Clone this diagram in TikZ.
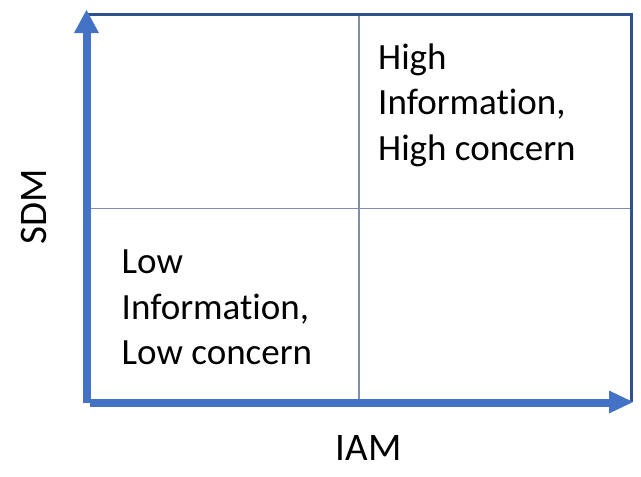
\documentclass[tikz,border=0pt]{standalone}
\usepackage{fontspec}
\setmainfont{Carlito}[Ligatures={NoCommon}]
\definecolor{axisblue}{RGB}{68,114,196}
\definecolor{frameblue}{RGB}{47,82,143}
\definecolor{gridblue}{RGB}{128,142,172}
\tikzset{
  quadtext/.style={anchor=base west, align=left, inner sep=0pt, font=\fontsize{37}{45.5}\selectfont},
  axislabel/.style={inner sep=0pt, font=\fontsize{39}{44}\selectfont},
  framel/.style={draw=frameblue, line width=2.2pt},
  gridl/.style={draw=gridblue, line width=1.3pt},
  axisl/.style={draw=axisblue, line width=8pt},
  headf/.style={fill=axisblue, draw=none}
}
\begin{document}
\begin{tikzpicture}[x=1pt,y=-1pt]
\useasboundingbox (0,0) rectangle (641,477);
\coordinate (tl) at (87,14.5);
\coordinate (tr) at (631.5,14.5);
\coordinate (br) at (631.5,402);
\coordinate (mt) at (359,14.5);
\coordinate (mb) at (359,402);
\coordinate (ml) at (87,208.7);
\coordinate (mr) at (631.5,208.7);
\coordinate (vstart) at (86.5,403);
\coordinate (vend) at (86.5,32);
\coordinate (vtip) at (86.5,10);
\coordinate (vbl) at (74,33);
\coordinate (vbr) at (99,33);
\coordinate (hstart) at (90,402.5);
\coordinate (hend) at (610,402.5);
\coordinate (htip) at (633,402);
\coordinate (hbt) at (609,390.5);
\coordinate (hbb) at (609,413.5);
% frame and grid
\draw[gridl] (mt) -- (mb);
\draw[gridl] (ml) -- (mr);
\draw[framel] (tl) -- (tr) -- (br);
% axes
\draw[axisl] (vstart) -- (vend);
\fill[headf] (vtip) -- (vbl) -- (vbr) -- cycle;
\draw[axisl] (hstart) -- (hend);
\fill[headf] (htip) -- (hbt) -- (hbb) -- cycle;
% texts (base anchor = baseline of the last line)
\node[quadtext] (hi) at (378,160) {High\\Information,\\High concern};
\node[quadtext] (lo) at (121.5,364.5) {Low\\Information,\\Low concern};
\node[axislabel, anchor=base] (iam) at (368.5,460) {IAM};
\node[axislabel, anchor=base, rotate=90] (sdm) at (46.5,207) {SDM};
\end{tikzpicture}
\end{document}
